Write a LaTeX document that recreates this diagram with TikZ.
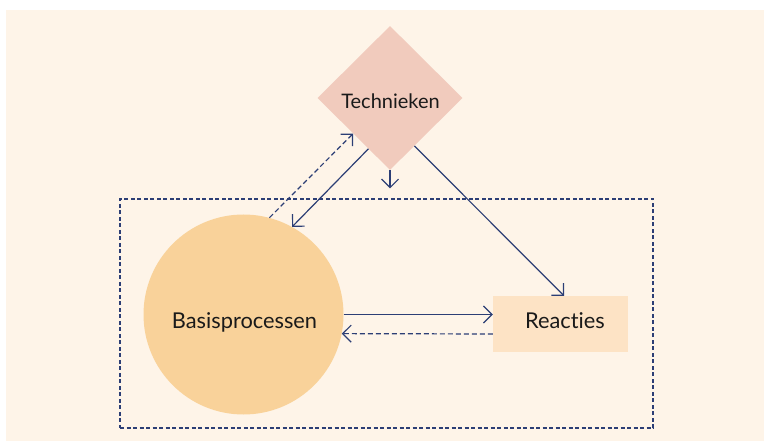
\documentclass[tikz,border=0pt]{standalone}
\usepackage{fontspec}
\setmainfont{Lato}[Ligatures=NoCommon]
\usetikzlibrary{shapes.geometric,arrows.meta,calc}
\definecolor{bgc}{HTML}{FEF4E8}
\definecolor{techc}{HTML}{F1CBBD}
\definecolor{basc}{HTML}{F9D29A}
\definecolor{reacc}{HTML}{FDE3C5}
\definecolor{navy}{HTML}{2C3E75}
\definecolor{txt}{HTML}{1A1A1A}
\begin{document}
\begin{tikzpicture}[x=1pt,y=-1pt,
  arr/.style={draw=navy,line width=1.2pt,-{Straight Barb[length=8.5pt,width=17pt,line width=1.2pt]}},
  dsh/.style={dash pattern=on 5pt off 3pt},
  lbl/.style={text=txt,inner sep=0pt,anchor=base}]
\useasboundingbox (0,0) rectangle (765,443);
\fill[bgc] (6,10) rectangle (764,441);
\node[draw=navy,line width=1.1pt,dash pattern=on 4pt off 2.5pt,minimum width=533pt,minimum height=229pt,inner sep=0pt] (grp) at (386.5,313.5) {};
\node[diamond,fill=techc,minimum width=145pt,minimum height=144pt,inner sep=0pt] (tech) at (390,98) {};
\node[circle,fill=basc,minimum size=200pt,inner sep=0pt] (basis) at (243.5,314.5) {};
\node[rectangle,fill=reacc,minimum width=135pt,minimum height=56pt,inner sep=0pt] (reac) at (560.5,324) {};
\node[lbl,font=\fontsize{20}{24}\selectfont] (techT) at (390.5,108.3) {Technieken};
\node[lbl,font=\fontsize{21.8}{26}\selectfont] (basisT) at (244.5,329) {Basisprocessen};
\node[lbl,font=\fontsize{21.8}{26}\selectfont] (reacT) at (565,329) {Reacties};
\draw[arr] (tech.247) -- (basis.61);
\draw[arr,dsh] (basis.75) -- (tech.224);
\draw[arr,shorten >=10pt] (tech.south) -- (tech.south |- grp.north);
\draw[arr] (tech.297) -- ([xshift=3.5pt]reac.north);
\draw[arr] (basis.east) -- (basis.east -| reac.west);
\draw[arr,dsh] ([yshift=-10pt]reac.west) -- (basis.-11.2);
\end{tikzpicture}
\end{document}
